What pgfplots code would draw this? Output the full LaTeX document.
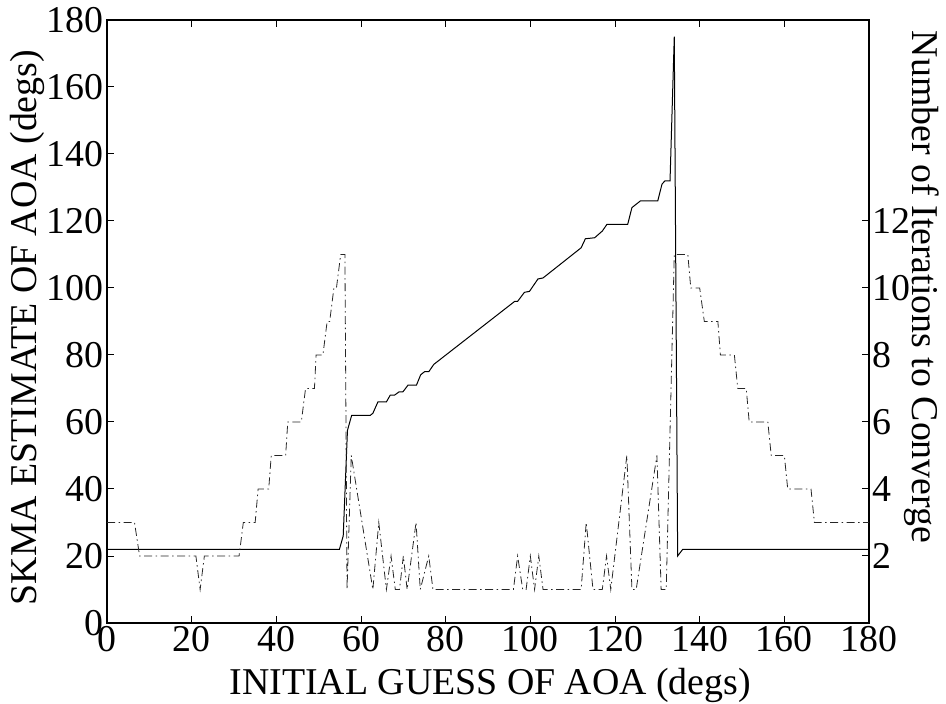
\documentclass[border=0pt]{standalone}
\usepackage{fontspec}
\setmainfont{Liberation Serif}
\usepackage{pgfplots}
\pgfplotsset{compat=1.18}
\begin{document}
\begin{tikzpicture}
\pgfplotsset{
  every axis/.append style={
    scale only axis, width=762bp, height=603bp,
    xmin=0, xmax=180,
    axis line style={line width=1.3bp},
    tick style={line width=1bp, black},
    major tick length=7.5bp,
    tick align=inside,
    /pgf/number format/assume math mode=true,
    tick label style={font=\fontsize{38}{40}\selectfont},
    label style={font=\fontsize{38}{40}\selectfont},
  }
}
\useasboundingbox (-107bp,-81bp) rectangle (839bp,623bp);
\begin{axis}[
  ymin=0, ymax=180,
  xtick={0,20,...,180}, ytick={0,20,...,180},
  ytick pos=left,
  xlabel={INITIAL GUESS OF AOA (degs)},
  xlabel style={at={(axis description cs:0.503,-0.103)}, anchor=center},
  ylabel={SKMA ESTIMATE OF AOA (degs)},
  ylabel style={at={(axis description cs:-0.104,0.49)}, anchor=center},
]
\addplot[black, line width=1bp] coordinates {
(0,22) (54.9,22) (55.8,26) (56.8,57.5) (57.8,62) (62.2,62) (62.8,62.6) (64,66) (66,66)
(66.9,68) (67.9,68) (69,69) (69.9,69) (71.1,71) (73.1,71) (74.1,74.1) (75,75) (76,75)
(77.2,77.2) (96.3,96) (97,96) (98.6,98.7) (99.8,99) (101.8,102.7) (103,103) (112,112)
(113,114.7) (115.2,115) (117,117) (118.1,119) (123,119) (124,124) (126,126) (130.1,126)
(131.1,131) (131.8,132) (133,132) (134,175) (134.8,20) (136,22) (180,22)
};
\end{axis}
\begin{axis}[
  axis x line=none, axis y line*=right,
  ymin=0, ymax=18, ytick={2,4,...,12},
  ylabel={Number of Iterations to Converge},
  ylabel style={at={(axis description cs:1.0696,0.557)}, anchor=center, rotate=180},
]
\addplot[black!85, line width=0.8bp, dash pattern=on 8bp off 3.5bp on 1.5bp off 3.5bp] coordinates {
(0,3) (6.5,3) (7.7,2) (21,2) (22,1) (23,2) (31.2,2) (32.2,3) (35,3) (35.7,4) (38.2,4)
(38.8,5) (42.2,5) (42.7,6) (45.9,6) (46.9,7) (49,7) (49.4,8) (51,8) (52,9) (52.6,9)
(53.6,10) (54.2,10) (55.2,11) (56.2,11) (56.7,1) (57.7,5) (62.8,1) (64.2,3) (66,1)
(67.1,2) (68.1,1) (69.1,1) (70,2) (70.9,1) (73,3) (74,1) (76,2) (77,1) (96,1) (97,2)
(98.2,1) (99,1) (100,2) (101,1) (102,2) (103,1) (112,1) (113.2,3) (114.8,1) (117,1)
(118,2) (119,1) (122.8,5) (124,1) (125,1) (129.9,5) (130.9,1) (132.1,1) (134,11)
(137.2,11) (137.9,10) (140,10) (141.1,9) (144.3,9) (144.9,8) (148.2,8) (149,7) (151,7)
(151.7,6) (156.1,6) (156.9,5) (160,5) (160.8,4) (166.3,4) (167.1,3) (180,3)
};
\end{axis}
\end{tikzpicture}
\end{document}
